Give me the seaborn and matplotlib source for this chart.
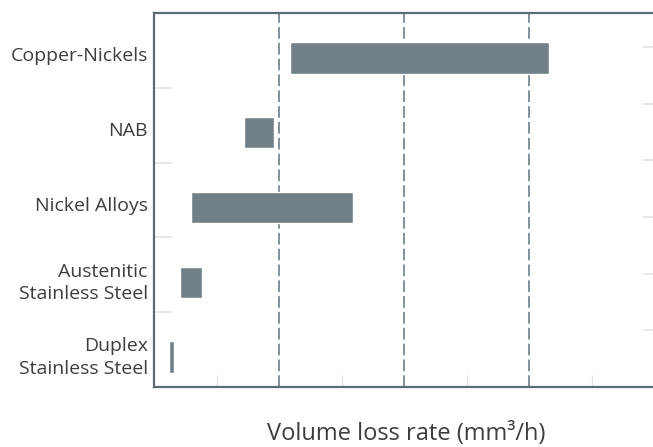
import numpy as np
import pandas as pd
import matplotlib.pyplot as plt
import seaborn as sns

# alloy groups, top to bottom, and the range of volume loss rate for each
materials = ['Copper-Nickels', 'NAB', 'Nickel Alloys',
             'Austenitic\nStainless Steel', 'Duplex\nStainless Steel']
loss_min = [0.544, 0.36, 0.148, 0.104, 0.06]
loss_max = [1.58, 0.479, 0.796, 0.191, 0.08]

df = pd.DataFrame({'material': materials, 'lo': loss_min, 'hi': loss_max})
df['span'] = df['hi'] - df['lo']

sns.set_theme(style='white')
plt.rcParams['font.family'] = ['Open Sans', 'DejaVu Sans']

bar_col = '#717f86'
spine_col = '#5d6b73'
light = '#e2e4e5'
txt = '#3d3d3d'

fig = plt.figure(figsize=(6.53, 4.47), dpi=100)
ax = fig.add_axes([154 / 653, 60 / 447, 504 / 653, 374 / 447])

sns.barplot(data=df, x='span', y='material', left=df['lo'], color=bar_col,
            saturation=1, width=0.42, ax=ax, orient='h')

ax.set_xlim(0, 2.016)
ax.set_ylim(4.4, -0.6)

# dashed reference lines at the major x positions
for v in [0.5, 1.0, 1.5, 2.0]:
    ax.axvline(v, color='#6f7e87', lw=1.2, ls=(0, (7, 2.5)), zorder=0)

ax.set_xticks([0.5, 1.0, 1.5, 2.0])
ax.set_xticklabels([])
ax.set_xticks([0.25, 0.75, 1.25, 1.75], minor=True)
# labels sit a touch above the bar centres
ax.set_yticks(np.arange(len(materials)) - 0.05)
ax.set_yticklabels(materials, fontsize=14, color=txt, linespacing=1.35)
ax.set_yticks([0.4, 1.4, 2.4, 3.4], minor=True)

ax.tick_params(axis='both', which='major', length=0)
ax.tick_params(axis='y', which='major', pad=4.5)
ax.tick_params(axis='x', which='minor', direction='in', length=8.5,
               width=1.0, color=light, bottom=True)
ax.tick_params(axis='y', which='minor', direction='in', length=13,
               width=1.2, color=light, left=True)

for s in ['left', 'bottom', 'top', 'right']:
    ax.spines[s].set_visible(True)
    ax.spines[s].set_color(spine_col)
    ax.spines[s].set_linewidth(1.6)

ax.set_ylabel('')
ax.set_xlabel('Volume loss rate (mm\u00b3/h)', fontsize=17, color=txt,
              labelpad=22)

# faint ticks along the right edge
ax2 = ax.twinx()
ax2.set_ylim(0, 6.6)
ax2.set_yticks([1, 2, 3, 4, 5, 6])
ax2.set_yticklabels([])
ax2.tick_params(axis='y', direction='in', length=11, width=1.2, color=light)
for s in ax2.spines.values():
    s.set_visible(False)

fig.savefig('out.png', dpi=100)
